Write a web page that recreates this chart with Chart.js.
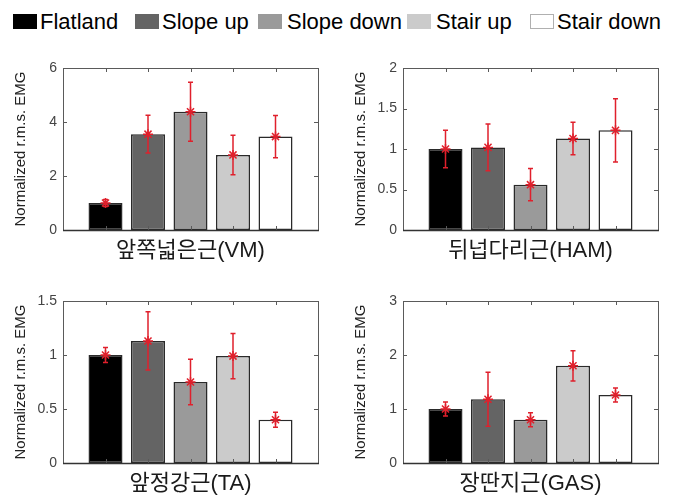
<!DOCTYPE html>
<html>
<head>
<meta charset="utf-8">
<script src="https://cdn.jsdelivr.net/npm/chart.js@4/dist/chart.umd.min.js"></script>
<style>
    body { margin: 0; background: #fff; width: 679px; height: 495px; overflow: hidden; position: relative; }
    .panel { position: absolute; width: 340px; height: 240px; }
    .legend-box { position: absolute; top: 14px; width: 24px; height: 15px; box-sizing: border-box; }
    .legend-text { position: absolute; top: 11px; font: 22px 'Liberation Sans', Arial, sans-serif; line-height: 22px; color: #000; white-space: nowrap; }
</style>
</head>
<body>
<div id="legend"></div>
<div class="panel" style="left:0;top:40px"><canvas id="vmChart" width="340" height="240"></canvas></div>
<div class="panel" style="left:340px;top:40px"><canvas id="hamChart" width="340" height="240"></canvas></div>
<div class="panel" style="left:0;top:273px"><canvas id="taChart" width="340" height="240"></canvas></div>
<div class="panel" style="left:340px;top:273px"><canvas id="gasChart" width="340" height="240"></canvas></div>
<script>
const CATEGORIES = ['Flatland', 'Slope up', 'Slope down', 'Stair up', 'Stair down'];
const BAR_COLORS = ['#000000', '#646464', '#9a9a9a', '#cbcbcb', '#ffffff'];

const VM_MEAN = [1.0, 3.55, 4.38, 2.78, 3.46];
const VM_ERR = [0.13, 0.70, 1.09, 0.73, 0.78];
const HAM_MEAN = [1.0, 1.02, 0.56, 1.13, 1.23];
const HAM_ERR = [0.23, 0.29, 0.20, 0.20, 0.39];
const TA_MEAN = [1.0, 1.13, 0.75, 0.99, 0.40];
const TA_ERR = [0.07, 0.27, 0.21, 0.21, 0.07];
const GAS_MEAN = [1.0, 1.18, 0.80, 1.80, 1.26];
const GAS_ERR = [0.13, 0.50, 0.13, 0.28, 0.13];

const Y_TITLE = 'Normalized r.m.s. EMG';
const FONT = "'Liberation Sans', 'Noto Sans CJK KR', Arial, sans-serif";
const ERR_COLOR = '#e0202c';

// pad with empty slots so the bars sit at 1..5 on a 0..6 axis, like the matlab figure
const pad = arr => [null, ...arr, null];

// legend across the top
const legendPos = [[13, 40], [135, 162], [258, 287], [407, 436], [530, 557]];
const legendEl = document.getElementById('legend');
CATEGORIES.forEach((name, i) => {
    const box = document.createElement('div');
    box.className = 'legend-box';
    box.style.left = legendPos[i][0] + 'px';
    box.style.background = BAR_COLORS[i];
    box.style.border = '1px solid ' + (i === 4 ? '#b0b0b0' : BAR_COLORS[i]);
    legendEl.appendChild(box);
    const txt = document.createElement('div');
    txt.className = 'legend-text';
    txt.style.left = legendPos[i][1] + 'px';
    txt.textContent = name;
    legendEl.appendChild(txt);
});

const errorBarPlugin = {
    id: 'errorBars',
    afterDatasetDraw(chart, args, opts) {
        if (args.meta.type !== 'bar') return;
        const { ctx, scales: { x, y } } = chart;
        const data = chart.data.datasets[args.index].data;
        ctx.save();
        ctx.strokeStyle = ERR_COLOR;
        ctx.lineWidth = 1.5;
        data.forEach((v, i) => {
            const e = opts.err[i];
            if (v == null || e == null) return;
            const px = x.getPixelForValue(i);
            const top = y.getPixelForValue(v + e);
            const bot = y.getPixelForValue(v - e);
            ctx.beginPath();
            ctx.moveTo(px, top); ctx.lineTo(px, bot);
            ctx.moveTo(px - 2.5, top); ctx.lineTo(px + 2.5, top);
            ctx.moveTo(px - 2.5, bot); ctx.lineTo(px + 2.5, bot);
            ctx.stroke();
        });
        ctx.restore();
    }
};

// matlab style box with inward ticks
const boxPlugin = {
    id: 'boxAxes',
    afterDatasetsDraw(chart) {
        const { ctx, chartArea: a, scales: { x, y } } = chart;
        ctx.save();
        ctx.strokeStyle = '#5a5a5a';
        ctx.lineWidth = 1;
        ctx.strokeRect(a.left + 0.5, a.top + 0.5, a.right - a.left, a.bottom - a.top);
        ctx.beginPath();
        y.ticks.forEach(t => {
            const py = Math.round(y.getPixelForValue(t.value)) + 0.5;
            ctx.moveTo(a.left, py); ctx.lineTo(a.left + 4, py);
            ctx.moveTo(a.right, py); ctx.lineTo(a.right - 4, py);
        });
        chart.data.labels.forEach((l, i) => {
            if (!l) return;
            const px = Math.round(x.getPixelForValue(i)) + 0.5;
            ctx.moveTo(px, a.top); ctx.lineTo(px, a.top + 4);
            ctx.moveTo(px, a.bottom); ctx.lineTo(px, a.bottom - 4);
        });
        ctx.stroke();
        ctx.strokeStyle = '#333';
        ctx.lineWidth = 1.5;
        ctx.beginPath();
        ctx.moveTo(a.left, a.bottom + 0.5); ctx.lineTo(a.right + 1, a.bottom + 0.5);
        ctx.stroke();
        ctx.restore();
    }
};

function makePanel(id, title, means, errs, yMax, step) {
    const ctx = document.getElementById(id).getContext('2d');
    return new Chart(ctx, {
        type: 'bar',
        data: {
            labels: pad(CATEGORIES),
            datasets: [{
                type: 'line',
                data: pad(means),
                showLine: false,
                pointStyle: 'star',
                pointRadius: 5,
                pointBorderWidth: 1.5,
                borderColor: ERR_COLOR,
                backgroundColor: ERR_COLOR,
                order: 1,
            }, {
                data: pad(means),
                backgroundColor: pad(BAR_COLORS),
                borderColor: '#2a2a2a',
                borderWidth: 1.5,
                borderSkipped: false,
                categoryPercentage: 0.8,
                barPercentage: 1,
                order: 2,
            }]
        },
        options: {
            responsive: false,
            animation: false,
            layout: { padding: { left: 0, right: 22, top: 28, bottom: 16 } },
            plugins: {
                legend: { display: false },
                tooltip: { enabled: false },
                errorBars: { err: pad(errs) },
            },
            scales: {
                x: {
                    type: 'category',
                    offset: false,
                    grid: { display: false, drawTicks: false },
                    border: { display: false },
                    ticks: { display: false },
                    title: {
                        display: true,
                        text: title,
                        color: '#1a1a1a',
                        font: { family: FONT, size: 22 },
                        padding: 0,
                    },
                    afterFit: s => { s.height = 34; },
                },
                y: {
                    min: 0,
                    max: yMax,
                    grid: { display: false, drawTicks: false },
                    border: { display: false },
                    ticks: {
                        stepSize: step,
                        padding: 6,
                        color: '#444',
                        font: { family: FONT, size: 14 },
                        callback: v => String(+v.toFixed(2)),
                    },
                    title: {
                        display: true,
                        text: Y_TITLE,
                        color: '#222',
                        font: { family: FONT, size: 15 },
                        padding: { top: 12, bottom: 0 },
                    },
                    afterFit: s => { s.width = 63; },
                }
            }
        },
        plugins: [errorBarPlugin, boxPlugin]
    });
}

makePanel('vmChart', '앞쪽넓은근(VM)', VM_MEAN, VM_ERR, 6, 2);
makePanel('hamChart', '뒤넙다리근(HAM)', HAM_MEAN, HAM_ERR, 2, 0.5);
makePanel('taChart', '앞정강근(TA)', TA_MEAN, TA_ERR, 1.5, 0.5);
makePanel('gasChart', '장딴지근(GAS)', GAS_MEAN, GAS_ERR, 3, 1);
</script>
</body>
</html>
